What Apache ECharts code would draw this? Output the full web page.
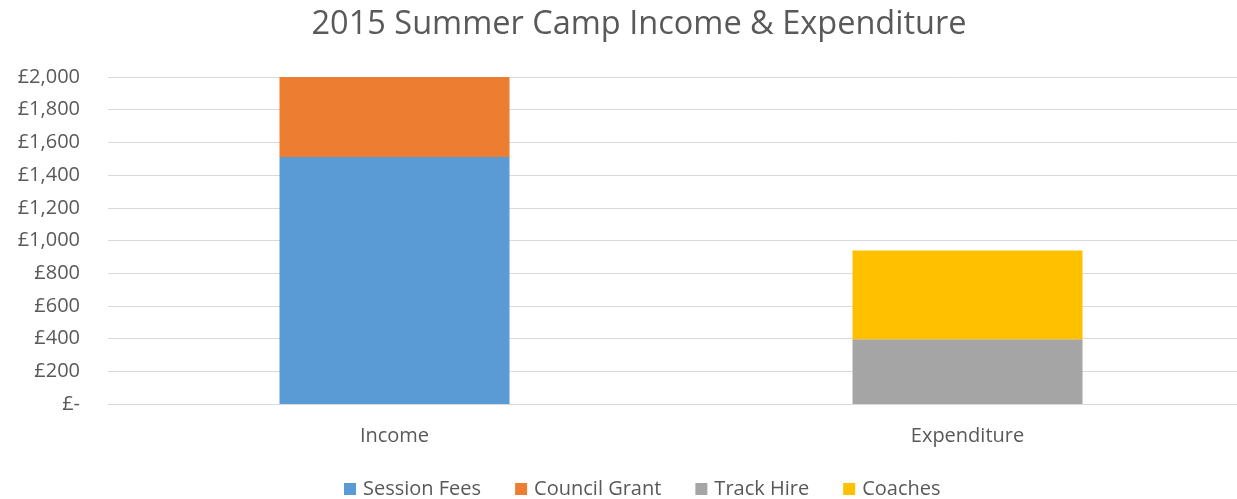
<!DOCTYPE html>
<html>
<head>
<meta charset="utf-8">
<script src="https://cdn.jsdelivr.net/npm/echarts@6/dist/echarts.min.js"></script>
<style>
html,body{margin:0;padding:0;background:#fff;}
#chart{width:1237px;height:499px;}
</style>
</head>
<body>
<div id="chart"></div>
<script>
const titleText = "2015 Summer Camp Income & Expenditure";
const categories = ["Income", "Expenditure"];
const sessionFees = [1510, null];
const councilGrant = [495, null];
const trackHire = [null, 396];
const coaches = [null, 543];
const yTicks = [0, 200, 400, 600, 800, 1000, 1200, 1400, 1600, 1800, 2000];

const FONT = "Open Sans";
const TXT = "#595959";

function fmt(v) {
  if (v === 0) return "£-";
  return "£" + v.toLocaleString("en-GB");
}

const chart = echarts.init(document.getElementById("chart"), null, {renderer: "canvas"});
const barW = 230;
function s(name, data, color) {
  return {
    name: name, type: "bar", stack: "total", data: data, barWidth: barW,
    itemStyle: {color: color}, emphasis: {disabled: true}
  };
}
chart.setOption({
  animation: false,
  backgroundColor: "#fff",
  title: {
    text: titleText, left: 634, top: 3, textAlign: "center",
    textStyle: {fontFamily: FONT, fontSize: 32.5, fontWeight: "normal", color: TXT}
  },
  legend: {
    top: 474, left: 339, itemWidth: 12, itemHeight: 12, itemGap: 34,
    icon: "rect",
    textStyle: {fontFamily: FONT, fontSize: 20, color: TXT, padding: [0,0,0,2]},
    data: ["Session Fees", "Council Grant", "Track Hire", "Coaches"]
  },
  grid: {left: 108, top: 77, width: 1146, height: 327, containLabel: false, outerBoundsMode: "none"},
  xAxis: {
    type: "category", data: categories,
    axisLine: {show: true, lineStyle: {color: "#d9d9d9"}},
    axisTick: {show: false},
    axisLabel: {fontFamily: FONT, fontSize: 20, color: TXT, margin: 22}
  },
  yAxis: {
    type: "value", min: 0, max: 2000, interval: 200,
    axisLine: {show: false}, axisTick: {show: false},
    splitLine: {lineStyle: {color: "#d9d9d9", width: 1}},
    axisLabel: {fontFamily: FONT, fontSize: 20, color: TXT, margin: 28, formatter: fmt}
  },
  series: [
    s("Session Fees", sessionFees, "#5b9bd5"),
    s("Council Grant", councilGrant, "#ed7d31"),
    s("Track Hire", trackHire, "#a5a5a5"),
    s("Coaches", coaches, "#ffc000")
  ]
});
</script>
</body>
</html>
